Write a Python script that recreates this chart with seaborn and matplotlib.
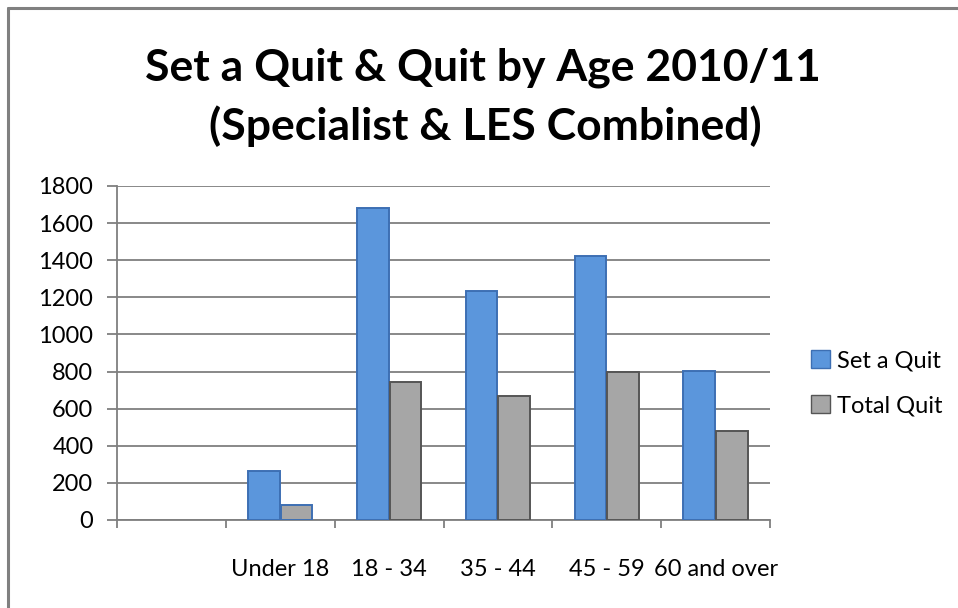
import matplotlib
matplotlib.use("Agg")
import matplotlib.pyplot as plt
import seaborn as sns
import pandas as pd
import numpy as np
from matplotlib.lines import Line2D
from matplotlib.patches import Patch

categories = ["", "Under 18", "18 - 34", "35 - 44", "45 - 59", "60 and over"]
age_groups = ["Under 18", "18 - 34", "35 - 44", "45 - 59", "60 and over"]
set_a_quit = [265, 1680, 1236, 1424, 805]
total_quit = [81, 744, 670, 799, 481]
series = ["Set a Quit", "Total Quit"]
yticks = [0, 200, 400, 600, 800, 1000, 1200, 1400, 1600, 1800]

df = pd.DataFrame({
    "Age": age_groups * 2,
    "Series": [series[0]] * len(age_groups) + [series[1]] * len(age_groups),
    "Value": set_a_quit + total_quit,
})

sns.set_style("white")
plt.rcParams["font.family"] = ["Lato", "DejaVu Sans"]
plt.rcParams["text.color"] = "black"

W, H = 958, 608
fig = plt.figure(figsize=(W / 100, H / 100), dpi=100)
ax = fig.add_axes([117 / W, (H - 520) / H, (770 - 117) / W, (520 - 186) / H])

blue = "#5B96DC"
grey = "#A6A6A6"
sns.barplot(data=df, x="Age", y="Value", hue="Series", order=categories,
            hue_order=series, palette=[blue, grey], width=0.6, gap=0.03,
            saturation=1, ax=ax, legend=False, zorder=3)

edge_cols = ["#3D6FB3"] * len(categories) + ["#555555"] * len(categories)
for p, ec in zip(ax.patches, edge_cols):
    p.set_edgecolor(ec)
    p.set_linewidth(1.4)

ax.set_ylim(0, 1800)
ax.set_xlim(-0.5, len(categories) - 0.5)
ax.set_yticks(yticks)
ax.set_yticklabels([str(v) for v in yticks])
ax.yaxis.grid(True, color="#7F7F7F", lw=1.3, zorder=0)
ax.set_axisbelow(True)
ax.set_xlabel("")
ax.set_ylabel("")

for s in ["top", "right"]:
    ax.spines[s].set_visible(False)
for s in ["left", "bottom"]:
    ax.spines[s].set_color("#7F7F7F")
    ax.spines[s].set_linewidth(1.3)

ax.tick_params(axis="y", length=7, width=1.3, color="#7F7F7F", pad=10,
               labelsize=17, labelcolor="black", left=True)
ax.tick_params(axis="x", which="major", length=0, pad=28, labelsize=17,
               labelcolor="black")
ax.set_xticks(np.arange(-0.5, len(categories), 1.0), minor=True)
ax.tick_params(axis="x", which="minor", length=6, width=1.3, color="#7F7F7F",
               bottom=True)

fig.text(483 / W, 1 - 68 / H, "Set a Quit & Quit by Age 2010/11",
         ha="center", va="center", fontsize=32, fontweight="bold", color="black")
fig.text(485 / W, 1 - 126 / H, "(Specialist & LES Combined)",
         ha="center", va="center", fontsize=32, fontweight="bold", color="black")

handles = [Patch(facecolor=blue, edgecolor="#3D6FB3"),
           Patch(facecolor=grey, edgecolor="#555555")]
fig.legend(handles, series, loc="center left", bbox_to_anchor=(790 / W, 1 - 383 / H),
           frameon=False, fontsize=17, handlelength=0.8, handleheight=0.8,
           handletextpad=0.3, labelspacing=1.0, labelcolor="black")

# outer frame (left and top)
fig.add_artist(Line2D([8 / W, 8 / W], [0, 1 - 8 / H], color="#808080", lw=2.2,
                      transform=fig.transFigure))
fig.add_artist(Line2D([8 / W, 1], [1 - 8 / H, 1 - 8 / H], color="#808080", lw=2.2,
                      transform=fig.transFigure))

fig.savefig("out.png", dpi=100)
